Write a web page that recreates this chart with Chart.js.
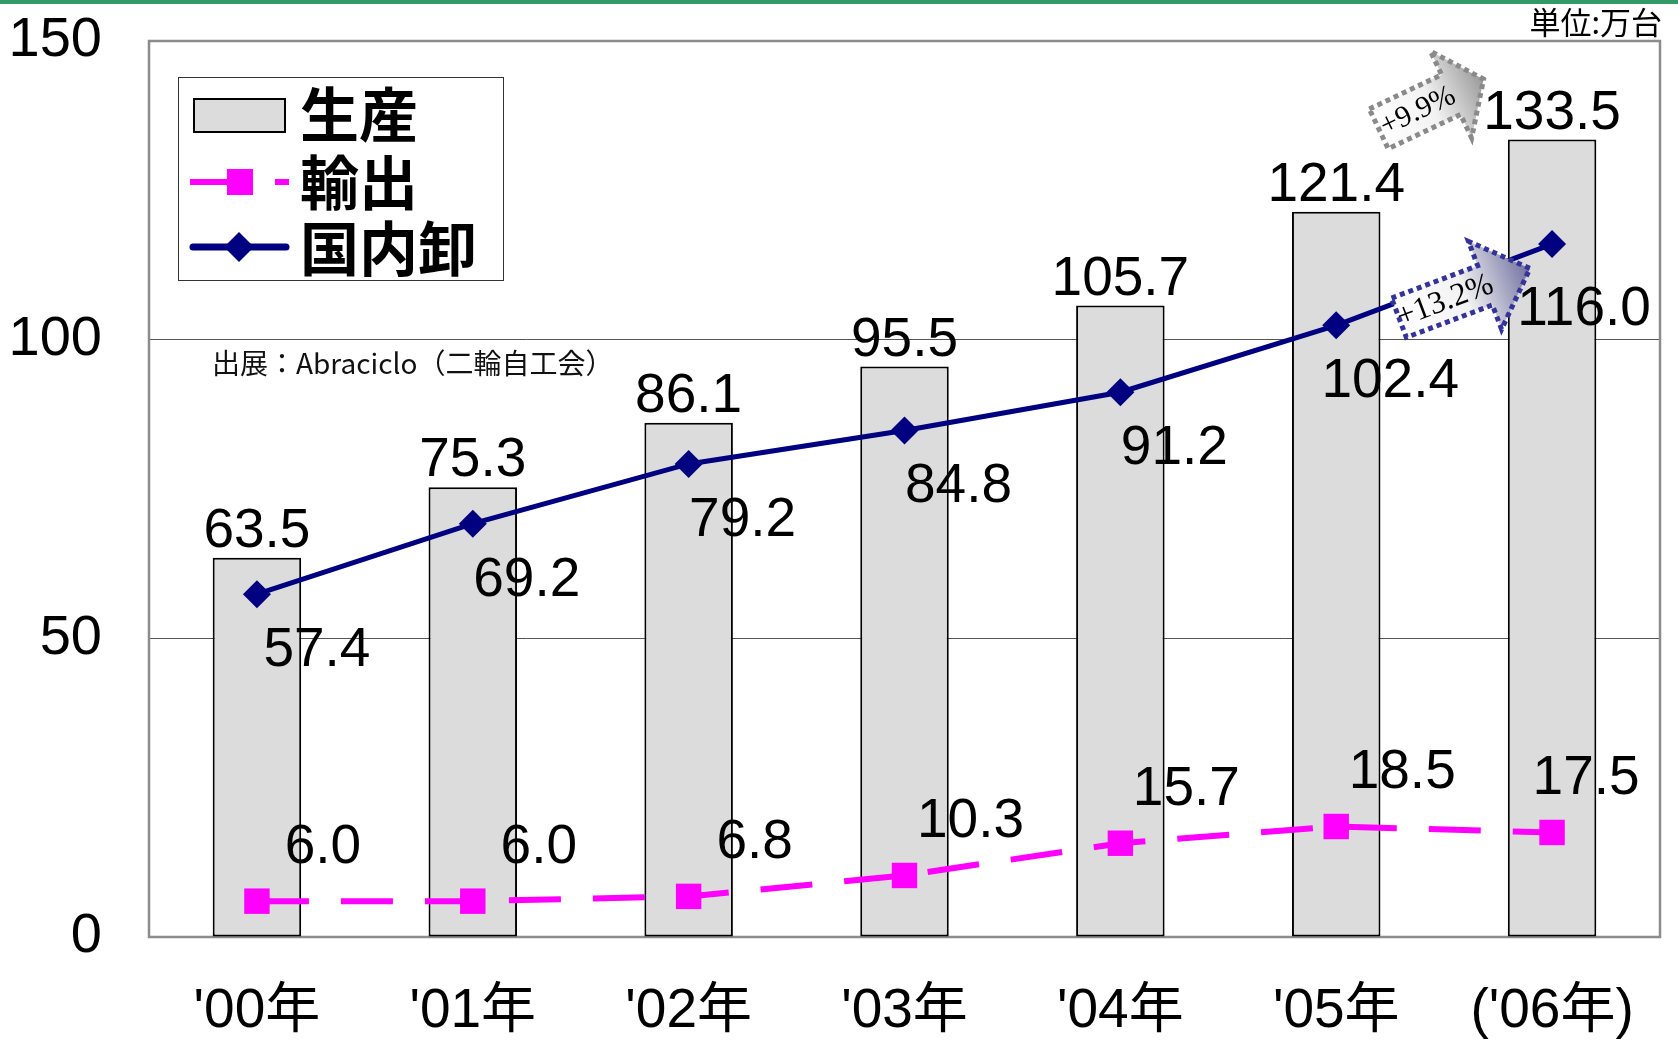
<!DOCTYPE html>
<html>
<head>
<meta charset="utf-8">
<script src="https://cdn.jsdelivr.net/npm/chart.js@4.4.1/dist/chart.umd.min.js"></script>
<style>
html, body { margin: 0; padding: 0; background: #fff; }
#contenedor { position: relative; width: 1678px; height: 1040px; }
#grafica { position: absolute; left: 0; top: 0; }
#barraVerde { position: absolute; left: 0; top: 0; width: 1678px; height: 4px; background: #339966; }
</style>
</head>
<body>
<div id="contenedor">
    <canvas id="grafica" width="1678" height="1040"></canvas>
    <div id="barraVerde"></div>
</div>
<script>
// Datos (万台)
var anios = ["'00年", "'01年", "'02年", "'03年", "'04年", "'05年", "('06年)"];
var produccion = [63.5, 75.3, 86.1, 95.5, 105.7, 121.4, 133.5];
var exportacion = [6.0, 6.0, 6.8, 10.3, 15.7, 18.5, 17.5];
var domestico = [57.4, 69.2, 79.2, 84.8, 91.2, 102.4, 116.0];
var ticksY = [0, 50, 100, 150];
var nombresSeries = ['生産', '輸出', '国内卸'];
var textoUnidad = '単位:万台';
var textoFuente = '出展：Abraciclo（二輪自工会）';
var flechaProduccion = '+9.9%';
var flechaDomestico = '+13.2%';

var fuenteNum = '"Liberation Sans", Arial, "Noto Sans CJK JP", sans-serif';
var fuenteCJK = '"Noto Sans CJK JP", "Liberation Sans", sans-serif';

var colorBarra = '#dcdcdc';
var colorExport = '#ff00ff';
var colorDomestico = '#000080';

// dibuja una flecha rellena con degradado y borde punteado
function dibujarFlecha(ctx, cx, cy, angulo, largo, anchoCuerpo, anchoPunta, largoPunta, colorBorde, colorDegradado, texto, tamTexto) {
    var x0 = -largo / 2, x1 = largo / 2, xh = x1 - largoPunta;
    ctx.save();
    ctx.translate(cx, cy);
    ctx.rotate(angulo);
    ctx.beginPath();
    ctx.moveTo(x0, -anchoCuerpo / 2);
    ctx.lineTo(xh, -anchoCuerpo / 2);
    ctx.lineTo(xh, -anchoPunta / 2);
    ctx.lineTo(x1, 0);
    ctx.lineTo(xh, anchoPunta / 2);
    ctx.lineTo(xh, anchoCuerpo / 2);
    ctx.lineTo(x0, anchoCuerpo / 2);
    ctx.closePath();
    var grad = ctx.createLinearGradient(x0, 0, x1, 0);
    grad.addColorStop(0, '#ffffff');
    grad.addColorStop(0.5, '#f2f2f2');
    grad.addColorStop(1, colorDegradado);
    ctx.fillStyle = grad;
    ctx.fill();
    ctx.setLineDash([5, 4]);
    ctx.lineWidth = 5;
    ctx.strokeStyle = colorBorde;
    ctx.stroke();
    ctx.setLineDash([]);
    ctx.fillStyle = '#000';
    ctx.font = tamTexto + 'px "Liberation Serif", "Times New Roman", serif';
    ctx.textAlign = 'center';
    ctx.textBaseline = 'middle';
    ctx.fillText(texto, (x0 + xh) / 2 + 3, 1);
    ctx.restore();
}

var fondoPlugin = {
    id: 'fondo',
    beforeDatasetsDraw: function (chart) {
        var ctx = chart.ctx;
        var a = chart.chartArea;
        ctx.save();
        // marco del area de trazado
        ctx.strokeStyle = '#8c8c8c';
        ctx.lineWidth = 2.5;
        ctx.strokeRect(a.left, a.top, a.right - a.left, a.bottom - a.top);
        // fuente con fondo blanco
        ctx.fillStyle = '#fff';
        ctx.fillRect(a.left + 44, a.top + 304, 450, 40);
        ctx.fillStyle = '#111';
        ctx.font = '28px ' + fuenteCJK;
        ctx.textAlign = 'left';
        ctx.textBaseline = 'middle';
        ctx.fillText(textoFuente, a.left + 63, a.top + 322);
        // unidad
        ctx.font = '31px ' + fuenteCJK;
        ctx.textAlign = 'right';
        ctx.fillStyle = '#000';
        ctx.fillText(textoUnidad, a.right + 2, 22);
        ctx.restore();
    }
};

var etiquetasPlugin = {
    id: 'etiquetas',
    afterDatasetsDraw: function (chart) {
        var ctx = chart.ctx;
        var a = chart.chartArea;
        var ultimo = anios.length - 1;
        var metaBar = chart.getDatasetMeta(0);
        var metaExp = chart.getDatasetMeta(1);
        var metaDom = chart.getDatasetMeta(2);

        // flechas de variacion
        var b5 = metaBar.data[5], b6 = metaBar.data[6];
        var angB = Math.atan2(b6.y - b5.y, b6.x - b5.x) - 0.12;
        var t1 = 0.44;
        dibujarFlecha(ctx, b5.x + (b6.x - b5.x) * t1, b5.y + (b6.y - b5.y) * t1 - 76, angB,
            116, 44, 96, 36, '#8a8a8a', '#999999', flechaProduccion, 30);

        var d5 = metaDom.data[5], d6 = metaDom.data[6];
        var angD = Math.atan2(d6.y - d5.y, d6.x - d5.x);
        var t2 = 0.594;
        dibujarFlecha(ctx, d5.x + (d6.x - d5.x) * t2, d5.y + (d6.y - d5.y) * t2 + 16, angD,
            140, 42, 94, 48, '#333399', '#6f6fa0', flechaDomestico, 32);

        ctx.save();
        ctx.fillStyle = '#000';
        ctx.font = '55px ' + fuenteNum;
        ctx.textAlign = 'center';
        ctx.textBaseline = 'alphabetic';
        metaBar.data.forEach(function (bar, i) {
            ctx.fillText(produccion[i].toFixed(1), bar.x, bar.y - 11);
        });
        metaDom.data.forEach(function (p, i) {
            var dx = i === ultimo ? 32 : (i === 0 ? 60 : 54);
            var dy = i === ultimo ? 81 : 72;
            ctx.fillText(domestico[i].toFixed(1), p.x + dx, p.y + dy);
        });
        metaExp.data.forEach(function (p, i) {
            var dx = i === ultimo ? 34 : 66;
            ctx.fillText(exportacion[i].toFixed(1), p.x + dx, p.y - 38);
        });
        ctx.restore();

        // leyenda
        var lx = a.left + 29, ly = a.top + 36, lw = 325, lh = 203;
        ctx.save();
        ctx.fillStyle = '#fff';
        ctx.fillRect(lx, ly, lw, lh);
        ctx.strokeStyle = '#333';
        ctx.lineWidth = 1;
        ctx.strokeRect(lx + 0.5, ly + 0.5, lw, lh);

        ctx.fillStyle = colorBarra;
        ctx.fillRect(lx + 15, ly + 21, 93, 35);
        ctx.strokeStyle = '#000';
        ctx.lineWidth = 2;
        ctx.strokeRect(lx + 16, ly + 22, 91, 33);

        ctx.strokeStyle = colorExport;
        ctx.lineWidth = 6;
        ctx.setLineDash([63, 22]);
        ctx.beginPath();
        ctx.moveTo(lx + 12, ly + 105);
        ctx.lineTo(lx + 111, ly + 105);
        ctx.stroke();
        ctx.setLineDash([]);
        ctx.fillStyle = colorExport;
        ctx.fillRect(lx + 49, ly + 92, 26, 26);

        ctx.strokeStyle = colorDomestico;
        ctx.lineWidth = 7;
        ctx.lineCap = 'round';
        ctx.beginPath();
        ctx.moveTo(lx + 15, ly + 170);
        ctx.lineTo(lx + 108, ly + 170);
        ctx.stroke();
        ctx.fillStyle = colorDomestico;
        ctx.beginPath();
        ctx.moveTo(lx + 61 - 15, ly + 170);
        ctx.lineTo(lx + 61, ly + 170 - 15);
        ctx.lineTo(lx + 61 + 15, ly + 170);
        ctx.lineTo(lx + 61, ly + 170 + 15);
        ctx.closePath();
        ctx.fill();

        ctx.fillStyle = '#000';
        ctx.font = 'bold 59px ' + fuenteCJK;
        ctx.textAlign = 'left';
        ctx.textBaseline = 'middle';
        ctx.fillText(nombresSeries[0], lx + 122, ly + 38);
        ctx.fillText(nombresSeries[1], lx + 122, ly + 106);
        ctx.fillText(nombresSeries[2], lx + 122, ly + 172);
        ctx.restore();
    }
};

var ctx = document.getElementById('grafica').getContext('2d');
var grafica = new Chart(ctx, {
    type: 'bar',
    data: {
        labels: anios,
        datasets: [
            {
                type: 'bar',
                label: nombresSeries[0],
                data: produccion,
                backgroundColor: colorBarra,
                borderColor: '#000',
                borderWidth: 2,
                borderSkipped: false,
                barPercentage: 0.41,
                categoryPercentage: 1,
                order: 3
            },
            {
                type: 'line',
                label: nombresSeries[1],
                data: exportacion,
                borderColor: colorExport,
                backgroundColor: colorExport,
                borderWidth: 6,
                borderDash: [52, 32],
                tension: 0,
                pointStyle: 'rect',
                pointRadius: 18,
                pointBorderWidth: 0,
                pointBackgroundColor: colorExport,
                order: 2
            },
            {
                type: 'line',
                label: nombresSeries[2],
                data: domestico,
                borderColor: colorDomestico,
                backgroundColor: colorDomestico,
                borderWidth: 5,
                tension: 0,
                pointStyle: 'rectRot',
                pointRadius: 14,
                pointBorderWidth: 0,
                pointBackgroundColor: colorDomestico,
                order: 1
            }
        ]
    },
    options: {
        responsive: false,
        animation: false,
        layout: { padding: { top: 41, right: 13, left: 0, bottom: 0 } },
        plugins: {
            legend: { display: false },
            tooltip: { enabled: false }
        },
        scales: {
            x: {
                offset: true,
                grid: { display: false, drawTicks: false },
                border: { display: false },
                ticks: {
                    color: '#000',
                    padding: 42,
                    maxRotation: 0,
                    font: { size: 55, family: fuenteNum }
                },
                afterFit: function (s) {
                    s.height = 103;
                    s.paddingLeft = 0;
                    s.paddingRight = 0;
                }
            },
            y: {
                min: 0,
                max: 150,
                afterBuildTicks: function (s) {
                    s.ticks = ticksY.map(function (v) { return { value: v }; });
                },
                grid: {
                    drawTicks: false,
                    lineWidth: 1,
                    color: function (c) {
                        return (c.tick && (c.tick.value === 50 || c.tick.value === 100)) ? '#555' : 'rgba(0,0,0,0)';
                    }
                },
                border: { display: false },
                ticks: {
                    color: '#000',
                    padding: 47,
                    font: { size: 56, family: fuenteNum }
                },
                afterFit: function (s) {
                    s.width = 149;
                    s.paddingTop = 0;
                    s.paddingBottom = 0;
                }
            }
        }
    },
    plugins: [fondoPlugin, etiquetasPlugin]
});
</script>
</body>
</html>
